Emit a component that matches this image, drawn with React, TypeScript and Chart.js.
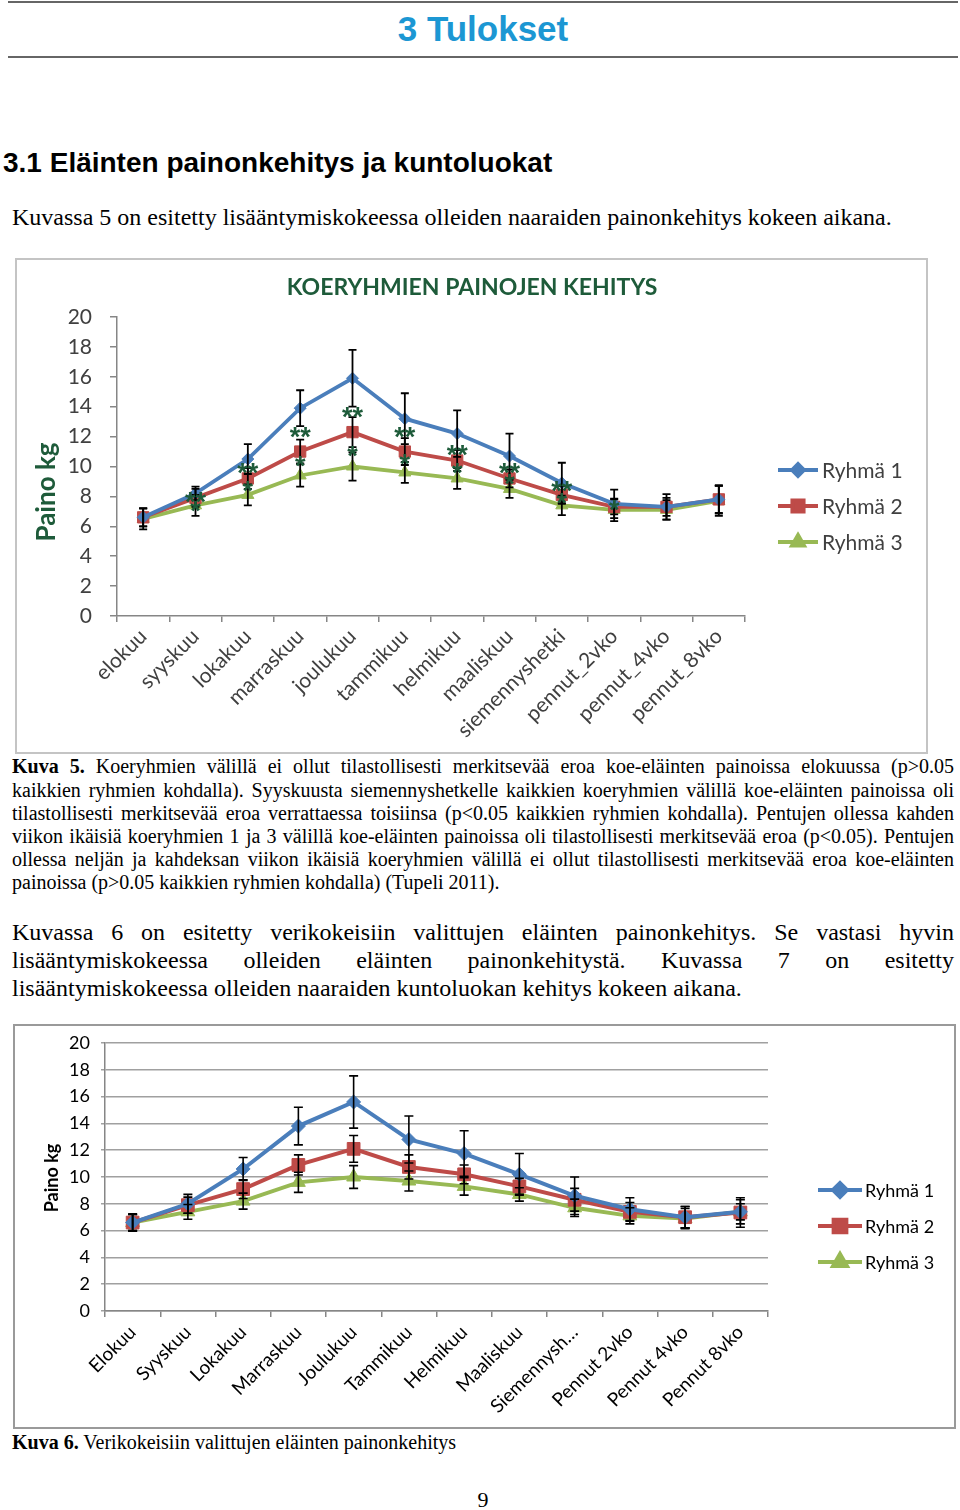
import React, { useEffect, useRef } from 'react';
import { Chart, registerables } from 'chart.js';
import { drawPoint } from 'chart.js/helpers';

Chart.register(...registerables);

// ---------- DATA ----------
const categories1 = ['elokuu', 'syyskuu', 'lokakuu', 'marraskuu', 'joulukuu', 'tammikuu', 'helmikuu', 'maaliskuu', 'siemennyshetki', 'pennut_2vko', 'pennut_4vko', 'pennut_8vko'];
const categories2 = ['Elokuu', 'Syyskuu', 'Lokakuu', 'Marraskuu', 'Joulukuu', 'Tammikuu', 'Helmikuu', 'Maaliskuu', 'Siemennysh…', 'Pennut 2vko', 'Pennut 4vko', 'Pennut 8vko'];
const seriesNames = ['Ryhmä 1', 'Ryhmä 2', 'Ryhmä 3'];

// Kuva 5
const ryhma1A = [6.6, 8.2, 10.5, 13.9, 15.9, 13.2, 12.2, 10.7, 8.9, 7.5, 7.3, 7.8];
const ryhma2A = [6.6, 7.9, 9.2, 11.0, 12.3, 11.0, 10.4, 9.2, 8.1, 7.3, 7.3, 7.8];
const ryhma3A = [6.5, 7.4, 8.1, 9.4, 10.0, 9.6, 9.2, 8.5, 7.4, 7.1, 7.1, 7.7];
const err1A = [0.6, 0.45, 1.0, 1.2, 1.9, 1.7, 1.55, 1.5, 1.35, 0.95, 0.85, 0.95];
const err2A = [0.6, 0.6, 0.7, 0.8, 1.0, 0.9, 0.7, 0.6, 0.6, 0.5, 0.6, 0.9];
const err3A = [0.7, 0.7, 0.7, 0.75, 0.95, 0.7, 0.7, 0.6, 0.65, 0.75, 0.65, 1.0];
const sigDoubleA = [null, 8.0, 9.9, 12.35, 13.7, 12.35, 11.15, 9.95, 8.75, null, null, null];
const sigSingleA = [null, 7.4, 8.7, 10.4, 11.1, 10.5, 9.9, 9.2, 7.95, 7.45, null, null];

// Kuva 6
const ryhma1B = [6.6, 8.0, 10.6, 13.8, 15.6, 12.8, 11.75, 10.2, 8.6, 7.6, 7.0, 7.4];
const ryhma2B = [6.6, 7.9, 9.1, 10.9, 12.1, 10.75, 10.2, 9.3, 8.3, 7.4, 7.0, 7.35];
const ryhma3B = [6.6, 7.4, 8.2, 9.6, 10.0, 9.7, 9.3, 8.7, 7.7, 7.1, 6.9, 7.4];
const err1B = [0.65, 0.7, 0.85, 1.4, 1.95, 1.75, 1.7, 1.55, 1.4, 0.85, 0.8, 0.9];
const err2B = [0.6, 0.6, 0.7, 0.75, 1.0, 0.9, 0.7, 0.6, 0.85, 0.7, 0.8, 1.1];
const err3B = [0.6, 0.55, 0.6, 0.75, 0.85, 0.75, 0.65, 0.5, 0.65, 0.6, 0.75, 0.6];

const yMin = 0;
const yMax = 20;
const yStep = 2;

// ---------- STYLE ----------
const BLUE = '#4A7EBB';
const RED = '#BE4B48';
const GREEN = '#98B954';
const DARKGREEN = '#1E5B3A';
const AXIS = '#868686';
const serif = '"Liberation Serif", "Times New Roman", serif';
const sans = '"Liberation Sans", Arial, sans-serif';
const cal = 'Lato, "Open Sans", sans-serif';

const decorPlugin = {
  id: 'decor',
  afterDatasetsDraw(chart: any, _a: any, opts: any) {
    const ctx = chart.ctx;
    const xs = chart.scales.x;
    const ys = chart.scales.y;
    chart.data.datasets.forEach((ds: any, di: number) => {
      if (!ds.errors) return;
      const meta = chart.getDatasetMeta(di);
      ctx.save();
      ctx.strokeStyle = '#000';
      ctx.lineWidth = opts.errWidth;
      meta.data.forEach((pt: any, i: number) => {
        const v = ds.data[i];
        const e = ds.errors[i];
        const x = pt.x;
        const yt = ys.getPixelForValue(v + e);
        const yb = ys.getPixelForValue(v - e);
        ctx.beginPath();
        ctx.moveTo(x, yt); ctx.lineTo(x, yb);
        ctx.moveTo(x - opts.capW, yt); ctx.lineTo(x + opts.capW, yt);
        ctx.moveTo(x - opts.capW, yb); ctx.lineTo(x + opts.capW, yb);
        ctx.stroke();
      });
      ctx.restore();
    });
    if (opts.marks) {
      ctx.save();
      ctx.fillStyle = DARKGREEN;
      ctx.textAlign = 'center';
      ctx.textBaseline = 'middle';
      ctx.font = opts.markFont;
      opts.marks.forEach((m: any) => {
        m.values.forEach((v: number | null, i: number) => {
          if (v == null) return;
          ctx.fillText(m.text, xs.getPixelForValue(i), ys.getPixelForValue(v) + opts.markDy);
        });
      });
      ctx.restore();
    }
  },
  afterDraw(chart: any, _a: any, opts: any) {
    const ctx = chart.ctx;
    if (opts.title) {
      const t = opts.title;
      ctx.save();
      ctx.font = t.font;
      ctx.fillStyle = t.color;
      ctx.textAlign = 'center';
      ctx.textBaseline = 'middle';
      ctx.fillText(t.text, t.x, t.y);
      ctx.restore();
    }
    if (opts.yTitle) {
      const t = opts.yTitle;
      ctx.save();
      ctx.translate(t.x, t.y);
      ctx.rotate(-Math.PI / 2);
      ctx.font = t.font;
      ctx.fillStyle = t.color;
      ctx.textAlign = 'center';
      ctx.textBaseline = 'middle';
      ctx.fillText(t.text, 0, 0);
      ctx.restore();
    }
    const L = opts.legend;
    if (L) {
      chart.data.datasets.forEach((ds: any, i: number) => {
        const y = L.y + i * L.gap;
        ctx.save();
        ctx.strokeStyle = ds.borderColor;
        ctx.lineWidth = ds.borderWidth;
        ctx.beginPath();
        ctx.moveTo(L.x, y);
        ctx.lineTo(L.x + L.len, y);
        ctx.stroke();
        ctx.fillStyle = ds.borderColor;
        ctx.strokeStyle = ds.borderColor;
        drawPoint(ctx, { pointStyle: ds.pointStyle, radius: ds.pointRadius, rotation: 0, borderWidth: 1 }, L.x + L.len / 2, y);
        ctx.fillStyle = L.color;
        ctx.font = L.font;
        ctx.textAlign = 'left';
        ctx.textBaseline = 'middle';
        ctx.fillText(ds.label, L.x + L.len + L.textGap, y + 1);
        ctx.restore();
      });
    }
  },
};

function makeDataset(label: string, data: number[], errors: number[], color: string, style: string, radius: number, width: number) {
  return {
    label, data, errors,
    borderColor: color, backgroundColor: color,
    pointBackgroundColor: color, pointBorderColor: color, pointBorderWidth: 1,
    borderWidth: width, pointStyle: style, pointRadius: radius, tension: 0,
  };
}

function config1() {
  const tickFont = { family: cal, size: 21 };
  return {
    type: 'line',
    data: {
      labels: categories1,
      datasets: [
        makeDataset(seriesNames[0], ryhma1A, err1A, BLUE, 'rectRot', 6, 3.8),
        makeDataset(seriesNames[1], ryhma2A, err2A, RED, 'rect', 8, 3.8),
        makeDataset(seriesNames[2], ryhma3A, err3A, GREEN, 'triangle', 7, 3.8),
      ],
    },
    options: {
      animation: false, responsive: false,
      layout: { padding: { left: 0, top: 56, right: 181, bottom: 0 } },
      plugins: {
        legend: { display: false }, tooltip: { enabled: false },
        decor: {
          errWidth: 1.8, capW: 4,
          marks: [{ values: sigDoubleA, text: '**' }, { values: sigSingleA, text: '*' }],
          markFont: `bold 27px ${sans}`, markDy: 7,
          title: { text: 'KOERYHMIEN PAINOJEN KEHITYS', x: 454, y: 27, font: `bold 23px ${cal}`, color: DARKGREEN },
          yTitle: { text: 'Paino kg', x: 29, y: 231, font: `bold 26px ${cal}`, color: DARKGREEN },
          legend: { x: 760, y: 209, gap: 36, len: 40, textGap: 4, font: `21px ${cal}`, color: '#404040' },
        },
      },
      scales: {
        x: {
          offset: true,
          grid: { display: true, drawOnChartArea: false, offset: true, tickLength: 6, color: AXIS, lineWidth: 1.5 },
          border: { color: AXIS, width: 1.5 },
          ticks: { minRotation: 45, maxRotation: 45, autoSkip: false, font: tickFont, color: '#404040', padding: 2 },
          afterFit: (s: any) => { s.height = 136; },
        },
        y: {
          min: yMin, max: yMax,
          ticks: { stepSize: yStep, font: tickFont, color: '#404040', padding: 18 },
          grid: { drawOnChartArea: false, tickLength: 7, color: AXIS, lineWidth: 1.5 },
          border: { color: AXIS, width: 1.5 },
          afterFit: (s: any) => { s.width = 99; s.paddingTop = 10; s.paddingBottom = 10; },
        },
      },
    },
    plugins: [decorPlugin],
  };
}

function config2() {
  const tickFont = { family: cal, size: 18 };
  const xFont = { family: cal, size: 19 };
  return {
    type: 'line',
    data: {
      labels: categories2,
      datasets: [
        makeDataset(seriesNames[0], ryhma1B, err1B, BLUE, 'rectRot', 7, 4),
        makeDataset(seriesNames[1], ryhma2B, err2B, RED, 'rect', 9, 4),
        makeDataset(seriesNames[2], ryhma3B, err3B, GREEN, 'triangle', 8, 4),
      ],
    },
    options: {
      animation: false, responsive: false,
      layout: { padding: { left: 0, top: 16, right: 186, bottom: 0 } },
      plugins: {
        legend: { display: false }, tooltip: { enabled: false },
        decor: {
          errWidth: 1.6, capW: 4.5,
          yTitle: { text: 'Paino kg', x: 36, y: 151, font: `bold 18px ${cal}`, color: '#000' },
          legend: { x: 802, y: 163, gap: 36, len: 44, textGap: 3, font: `18px ${cal}`, color: '#000' },
        },
      },
      scales: {
        x: {
          offset: true,
          grid: { display: true, drawOnChartArea: false, offset: true, tickLength: 6, color: AXIS, lineWidth: 1.5 },
          border: { color: AXIS, width: 1.5 },
          ticks: { minRotation: 45, maxRotation: 45, autoSkip: false, font: xFont, color: '#000', padding: 4 },
          afterFit: (s: any) => { s.height = 115; },
        },
        y: {
          min: yMin, max: yMax,
          ticks: { stepSize: yStep, font: tickFont, color: '#000', padding: 11 },
          grid: { drawOnChartArea: true, tickLength: 4, color: '#A0A0A0', lineWidth: 1.5 },
          border: { color: AXIS, width: 1.5 },
          afterFit: (s: any) => { s.width = 89; s.paddingTop = 10; s.paddingBottom = 10; },
        },
      },
    },
    plugins: [decorPlugin],
  };
}

function ChartCanvas({ make, left, top, width, height }: { make: () => any; left: number; top: number; width: number; height: number }) {
  const ref = useRef<HTMLCanvasElement>(null);
  useEffect(() => {
    const chart = new Chart(ref.current as HTMLCanvasElement, make() as any);
    return () => chart.destroy();
  }, []);
  return (
    <canvas ref={ref} width={width} height={height}
      style={{ position: 'absolute', left, top, width, height }} />
  );
}

function JLine({ top, children, last, size, lh }: { top: number; children: any; last?: boolean; size: number; lh: number }) {
  return (
    <div style={{
      position: 'absolute', left: 12, top, width: 942, fontFamily: serif, fontSize: size, lineHeight: `${lh}px`,
      textAlign: 'justify', textAlignLast: last ? 'left' : 'justify', color: '#000',
    }}>{children}</div>
  );
}

export default function App() {
  const cap1 = [
    <><b>Kuva 5.</b> Koeryhmien välillä ei ollut tilastollisesti merkitsevää eroa koe-eläinten painoissa elokuussa (p&gt;0.05</>,
    <>kaikkien ryhmien kohdalla). Syyskuusta siemennyshetkelle kaikkien koeryhmien välillä koe-eläinten painoissa oli</>,
    <>tilastollisesti merkitsevää eroa verrattaessa toisiinsa (p&lt;0.05 kaikkien ryhmien kohdalla). Pentujen ollessa kahden</>,
    <>viikon ikäisiä koeryhmien 1 ja 3 välillä koe-eläinten painoissa oli tilastollisesti merkitsevää eroa (p&lt;0.05). Pentujen</>,
    <>ollessa neljän ja kahdeksan viikon ikäisiä koeryhmien välillä ei ollut tilastollisesti merkitsevää eroa koe-eläinten</>,
    <>painoissa (p&gt;0.05 kaikkien ryhmien kohdalla) (Tupeli 2011).</>,
  ];
  const para = [
    'Kuvassa 6 on esitetty verikokeisiin valittujen eläinten painonkehitys. Se vastasi hyvin',
    'lisääntymiskokeessa olleiden eläinten painonkehitystä. Kuvassa 7 on esitetty',
    'lisääntymiskokeessa olleiden naaraiden kuntoluokan kehitys kokeen aikana.',
  ];
  return (
    <div style={{ position: 'absolute', left: 0, top: 0, width: 960, height: 1510, overflow: 'hidden', background: '#fff' }}>
      <div style={{ position: 'absolute', left: 8, top: 1, width: 950, height: 2, background: '#666' }} />
      <div style={{ position: 'absolute', left: 0, top: 9, width: 966, textAlign: 'center', fontFamily: sans, fontWeight: 'bold', fontSize: 35, lineHeight: '40px', color: '#1C97D3' }}>3 Tulokset</div>
      <div style={{ position: 'absolute', left: 8, top: 56, width: 950, height: 2, background: '#666' }} />
      <div style={{ position: 'absolute', left: 3, top: 146, fontFamily: sans, fontWeight: 'bold', fontSize: 28, lineHeight: '34px', color: '#000', whiteSpace: 'nowrap' }}>3.1 Eläinten painonkehitys ja kuntoluokat</div>
      <div style={{ position: 'absolute', left: 12, top: 203, fontFamily: serif, fontSize: 24, lineHeight: '28px', color: '#000', whiteSpace: 'nowrap' }}>Kuvassa 5 on esitetty lisääntymiskokeessa olleiden naaraiden painonkehitys kokeen aikana.</div>

      <div style={{ position: 'absolute', left: 15, top: 258, width: 913, height: 496, border: '2px solid #C4C4C4', boxSizing: 'border-box' }} />
      <ChartCanvas make={config1} left={18} top={261} width={908} height={491} />

      {cap1.map((c, i) => (
        <JLine key={i} top={755.4 + i * 23.2} size={20} lh={23.2} last={i === cap1.length - 1}>{c}</JLine>
      ))}
      {para.map((p, i) => (
        <JLine key={i} top={918 + i * 28} size={24} lh={28} last={i === para.length - 1}>{p}</JLine>
      ))}

      <div style={{ position: 'absolute', left: 13, top: 1024, width: 943, height: 405, border: '2px solid #9A9A9A', boxSizing: 'border-box' }} />
      <ChartCanvas make={config2} left={16} top={1027} width={938} height={399} />

      <div style={{ position: 'absolute', left: 12, top: 1430, fontFamily: serif, fontSize: 20, lineHeight: '24px', whiteSpace: 'nowrap' }}><b>Kuva 6.</b> Verikokeisiin valittujen eläinten painonkehitys</div>
      <div style={{ position: 'absolute', left: 0, top: 1486, width: 966, textAlign: 'center', fontFamily: serif, fontSize: 22, lineHeight: '28px' }}>9</div>
    </div>
  );
}
